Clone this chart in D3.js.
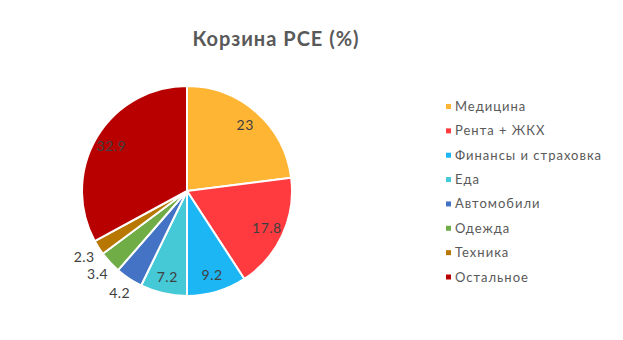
<!DOCTYPE html>
<html><head><meta charset="utf-8">
<script src="https://cdn.jsdelivr.net/npm/d3@7"></script>
<style>body{margin:0;background:#fff}svg{display:block}</style>
</head><body>
<script>
const categories = ["Медицина","Рента + ЖКХ","Финансы и страховка","Еда","Автомобили","Одежда","Техника","Остальное"];
const values = [23, 17.8, 9.2, 7.2, 4.2, 3.4, 2.3, 32.9];
const colors = ["#FFB534","#FF3B3F","#1DB6F5","#45C9D6","#4472C4","#70AD47","#B87700","#B80000"];
const title = "Корзина PCE (%)";

const W = 623, H = 340;
const font = "'Lato','Open Sans',sans-serif";
const svg = d3.select("body").append("svg").attr("width", W).attr("height", H);

svg.append("text").attr("x", 276).attr("y", 46).attr("text-anchor","middle")
  .attr("font-family", font).attr("font-weight","bold").attr("font-size", 20)
  .attr("letter-spacing", 1)
  .attr("fill","#595959").text(title);

const cx = 187, cy = 191, r = 105;
const data = categories.map((c,i)=>({c, v: values[i], col: colors[i]}));
const pie = d3.pie().value(d=>d.v).sort(null);
const arcs = pie(data);
const arc = d3.arc().innerRadius(0).outerRadius(r);
const g = svg.append("g").attr("transform",`translate(${cx},${cy})`);
g.selectAll("path").data(arcs).join("path")
  .attr("d", arc).attr("fill", d=>d.data.col)
  .attr("stroke","#fff").attr("stroke-width",2).attr("stroke-linejoin","round");

const inArc = d3.arc().innerRadius(88).outerRadius(88);
const outArc = d3.arc().innerRadius(122).outerRadius(122);
g.selectAll("text.lab").data(arcs).join("text").attr("class","lab")
  .attr("transform", d => `translate(${(d.data.v < 5 ? outArc : inArc).centroid(d)})`)
  .attr("text-anchor","middle").attr("dy","0.35em")
  .attr("font-family", font).attr("font-size", 14).attr("letter-spacing", 0.5)
  .attr("fill", "#404040").text(d=>d.data.v);

const leg = svg.append("g");
const ly = d3.scalePoint().domain(categories).range([106.5, 277]);
categories.forEach((c,i)=>{
  leg.append("rect").attr("x",446).attr("y",ly(c)-2.5).attr("width",5).attr("height",5).attr("fill",colors[i]);
  leg.append("text").attr("x",455).attr("y",ly(c)).attr("dy","0.35em")
    .attr("font-family", font).attr("font-size",13).attr("letter-spacing", 1)
    .attr("fill","#595959").text(c);
});
</script>
</body></html>
